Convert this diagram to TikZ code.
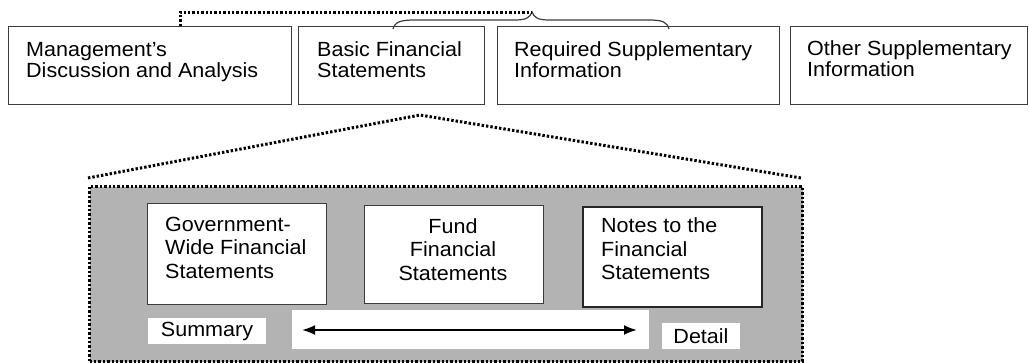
\documentclass[tikz,border=0pt]{standalone}
\usepackage{fontspec}
\setmainfont{Liberation Sans}[FakeStretch=1.05]
\usetikzlibrary{arrows.meta}
\definecolor{boxc}{HTML}{3C3C3C}
\definecolor{panelgray}{HTML}{B3B3B3}
\begin{document}
\begin{tikzpicture}[x=1pt,y=-1pt,
  box/.style={draw=boxc,line width=1.4pt,fill=white,inner sep=0pt,anchor=north west},
  txt/.style={inner sep=0pt,anchor=base west,align=left,font=\fontsize{20.5}{20.6}\selectfont},
  itxt/.style={inner sep=0pt,anchor=base west,align=left,font=\fontsize{20.5}{23.5}\selectfont},
  dots/.style={line width=3pt,dash pattern=on 2.4pt off 2pt},
  tag/.style={fill=white,inner sep=0pt,font=\fontsize{20.5}{23.5}\selectfont}]
\useasboundingbox (0,0) rectangle (1029,362);

% top row
\node[box,minimum width=283pt,minimum height=78pt] (mda) at (8,26) {};
\node[box,minimum width=186pt,minimum height=78pt] (bfs) at (298,26) {};
\node[box,minimum width=282pt,minimum height=78pt] (rsi) at (497,26) {};
\node[box,minimum width=237pt,minimum height=78pt] (osi) at (790,26) {};
% multi-line nodes: base anchor = baseline of the last line
\node[txt] (mdaT) at (26,77.5) {Management's\\Discussion and Analysis};
\node[txt] (bfsT) at (317,77.5) {Basic Financial\\Statements};
\node[txt] (rsiT) at (514,77.5) {Required Supplementary\\Information};
\node[txt] (osiT) at (807,76.5) {Other Supplementary\\Information};

% brace over Basic Financial Statements and RSI
\coordinate (tip) at (532,12);
\coordinate (braceL) at (393,29);
\coordinate (braceR) at (669,29);
\draw[line width=1.2pt,draw=boxc] (braceL) .. controls (395,22) and (400,20) .. (415,20) -- (515,20)
  .. controls (527,20) and (530,17) .. (tip)
  .. controls (534,17) and (537,20) .. (549,20) -- (648,20)
  .. controls (663,20) and (667,22) .. (braceR);

% dotted connector from MD&A to brace tip
\coordinate (mdaTop) at (180,26);
\draw[dots] (mdaTop) |- (tip);

% zoom panel
\node[draw=black,dots,fill=panelgray,inner sep=0pt,anchor=north west,
      minimum width=713pt,minimum height=175pt] (panel) at (88,185) {};
\coordinate (peak) at (420,115);
\coordinate (roofL) at (88,178);
\coordinate (roofR) at (801,178);
\draw[dots] (roofL) -- (peak) -- (roofR);

% inner boxes
\node[box,minimum width=179pt,minimum height=101pt] (gw) at (147,203) {};
\node[box,minimum width=179pt,minimum height=98pt] (ff) at (364,205) {};
\node[box,draw=black!85,line width=2.2pt,minimum width=179pt,minimum height=100pt] (nt) at (582,206) {};
\node[itxt] (gwT) at (165,278) {Government-\\Wide Financial\\Statements};
\node[itxt,anchor=base,align=center] (ffT) at (453,280) {Fund\\Financial\\Statements};
\node[itxt] (ntT) at (601,279.5) {Notes to the\\Financial\\Statements};

% summary / detail scale
\node[tag,minimum width=118pt,minimum height=26pt] (sum) at (207,331) {Summary};
\node[fill=white,inner sep=0pt,anchor=north west,minimum width=357pt,minimum height=39pt] (arrbg) at (292,310) {};
\node[tag,minimum width=78pt,minimum height=26pt] (det) at (701,336) {Detail};
\coordinate (arL) at (302,330);
\coordinate (arR) at (637,330);
\draw[line width=2pt,{Latex[length=13pt,width=10pt]}-{Latex[length=13pt,width=10pt]}] (arL) -- (arR);
\end{tikzpicture}
\end{document}
